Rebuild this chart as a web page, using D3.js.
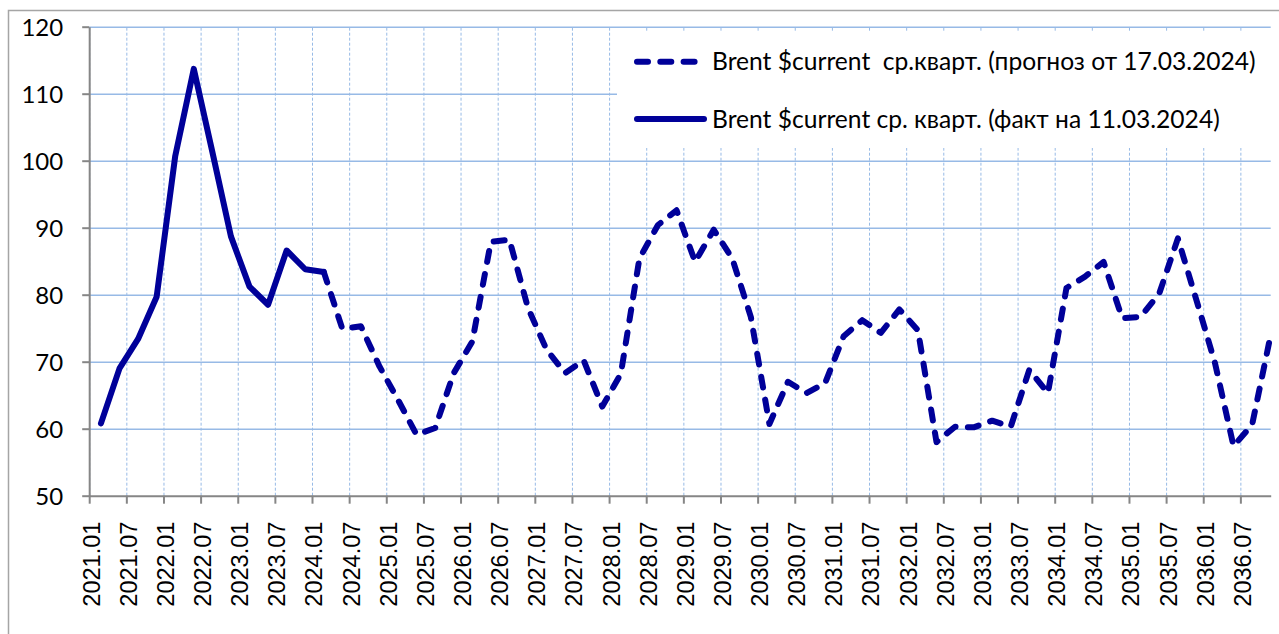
<!DOCTYPE html>
<html lang="ru">
<head>
<meta charset="UTF-8">
<title>Brent $current</title>
<script src="https://d3js.org/d3.v7.min.js"></script>
<style>
  body { margin: 0; background: #fff; }
  svg { display: block; }
  .ylab text { font-family: Lato, sans-serif; font-size: 24px; fill: #000; }
  .xlab text { font-family: "Liberation Sans", Arial, sans-serif; font-size: 23.5px; fill: #000; }
  .legend text { font-family: Lato, sans-serif; font-size: 24.6px; fill: #000; white-space: pre; }
</style>
</head>
<body>
<svg width="1279" height="634"></svg>
<script>
// подписи оси X (каждые полгода)
const tickLabels = [
  "2021.01","2021.07","2022.01","2022.07","2023.01","2023.07","2024.01","2024.07",
  "2025.01","2025.07","2026.01","2026.07","2027.01","2027.07","2028.01","2028.07",
  "2029.01","2029.07","2030.01","2030.07","2031.01","2031.07","2032.01","2032.07",
  "2033.01","2033.07","2034.01","2034.07","2035.01","2035.07","2036.01","2036.07"
];
const yTicks = [50, 60, 70, 80, 90, 100, 110, 120];

// факт, 2021 Q1 .. 2024 Q1
const factStart = 0;
const factValues = [60.8, 69.0, 73.4, 79.7, 100.7, 113.7, 101.3, 88.7, 81.2, 78.5, 86.6, 83.8, 83.4];

// прогноз, 2024 Q1 .. 2036 Q4
const forecastStart = 12;
const forecastValues = [
  83.4, 74.9, 75.3, 69.3, 64.3, 59.1, 60.1, 68.3, 73.0, 87.9, 88.2, 78.0,
  71.8, 68.3, 70.2, 63.3, 68.2, 85.4, 90.4, 92.6, 84.9, 89.7, 85.4, 76.7,
  60.7, 67.0, 65.3, 66.8, 73.8, 76.2, 74.3, 77.8, 74.7, 58.0, 60.3, 60.2,
  61.2, 60.3, 68.8, 65.3, 81.0, 82.7, 84.9, 76.5, 76.7, 80.2, 88.4, 79.2,
  69.8, 57.4, 60.6, 74.0
];

const legendLabels = [
  "Brent $current  ср.кварт. (прогноз от 17.03.2024)",
  "Brent $current ср. кварт. (факт на 11.03.2024)"
];

const color = "#000099";
const gridColor = "#97bae6";

const pLeft = 89.2, pRight = 1270.7, pTop = 26.7, pBottom = 495.7;
const svg = d3.select("svg");

// шкала в месяцах от 2021.01
const x = d3.scaleLinear().domain([0, 190.9]).range([pLeft, pRight]);
const y = d3.scaleLinear().domain([50, 120]).range([pBottom, pTop]);
const qMonth = i => 1.9 + 3 * i;
const tickMonths = tickLabels.map((d, i) => i * 6);

// рамка диаграммы
svg.append("rect")
  .attr("x", 8.5).attr("y", 10.5).attr("width", 1290).attr("height", 640)
  .attr("fill", "none").attr("stroke", "#a5a5a5").attr("stroke-width", 1.5);

// вертикальная сетка
svg.append("g")
  .attr("transform", `translate(0,${pBottom})`)
  .call(d3.axisBottom(x).tickValues(tickMonths).tickSize(-(pBottom - pTop)).tickFormat(""))
  .call(g => g.select(".domain").remove())
  .call(g => g.selectAll("line").attr("stroke", gridColor).attr("stroke-width", 1).attr("stroke-dasharray", "3,2"));

// горизонтальная сетка
svg.append("g")
  .attr("transform", `translate(${pLeft},0)`)
  .call(d3.axisLeft(y).tickValues(yTicks.slice(1)).tickSize(-(pRight - pLeft)).tickFormat(""))
  .call(g => g.select(".domain").remove())
  .call(g => g.selectAll("line").attr("stroke", gridColor).attr("stroke-width", 1.4));

// оси
svg.append("g")
  .attr("class", "ylab")
  .attr("transform", `translate(${pLeft},0)`)
  .call(d3.axisLeft(y).tickValues(yTicks).tickSize(7).tickSizeOuter(0).tickPadding(19))
  .call(g => g.select(".domain").attr("stroke", "#868686").attr("stroke-width", 2))
  .call(g => g.selectAll("line").attr("stroke", "#868686").attr("stroke-width", 2))
  .call(g => g.selectAll("text").attr("dy", "0.36em"));

svg.append("g")
  .attr("class", "xlab")
  .attr("transform", `translate(0,${pBottom})`)
  .call(d3.axisBottom(x).tickValues(tickMonths).tickSize(8).tickSizeOuter(0)
    .tickFormat((d, i) => tickLabels[i]))
  .call(g => g.select(".domain").attr("stroke", "#868686").attr("stroke-width", 2))
  .call(g => g.selectAll("line").attr("stroke", "#868686").attr("stroke-width", 2))
  .call(g => g.selectAll("text")
    .attr("text-anchor", "end")
    .attr("transform", "translate(1.5,26) rotate(-90)")
    .attr("x", 0).attr("y", 0).attr("dy", "0.36em"));

// линии
const line = d3.line().x(d => x(qMonth(d.i))).y(d => y(d.v));
const forecast = forecastValues.map((v, k) => ({ i: forecastStart + k, v }));
const fact = factValues.map((v, k) => ({ i: factStart + k, v }));

svg.append("path").datum(forecast)
  .attr("d", line).attr("fill", "none").attr("stroke", color)
  .attr("stroke-width", 6).attr("stroke-linecap", "round").attr("stroke-linejoin", "round")
  .attr("stroke-dasharray", "11,12.3");

svg.append("path").datum(fact)
  .attr("d", line).attr("fill", "none").attr("stroke", color)
  .attr("stroke-width", 6).attr("stroke-linecap", "round").attr("stroke-linejoin", "round");

// легенда
const lg = svg.append("g").attr("class", "legend");
lg.append("rect").attr("x", 617).attr("y", 32).attr("width", 660).attr("height", 116).attr("fill", "#fff");
const rows = [
  { y: 61.7, dash: "11,12.3", x2: 696 },
  { y: 119, dash: null, x2: 704 }
];
rows.forEach((r, k) => {
  lg.append("line")
    .attr("x1", 637).attr("x2", r.x2).attr("y1", r.y).attr("y2", r.y)
    .attr("stroke", color).attr("stroke-width", 6).attr("stroke-linecap", "round")
    .attr("stroke-dasharray", r.dash);
  lg.append("text").attr("x", 712).attr("y", r.y + 8.5)
    .attr("xml:space", "preserve").text(legendLabels[k]);
});
</script>
</body>
</html>
